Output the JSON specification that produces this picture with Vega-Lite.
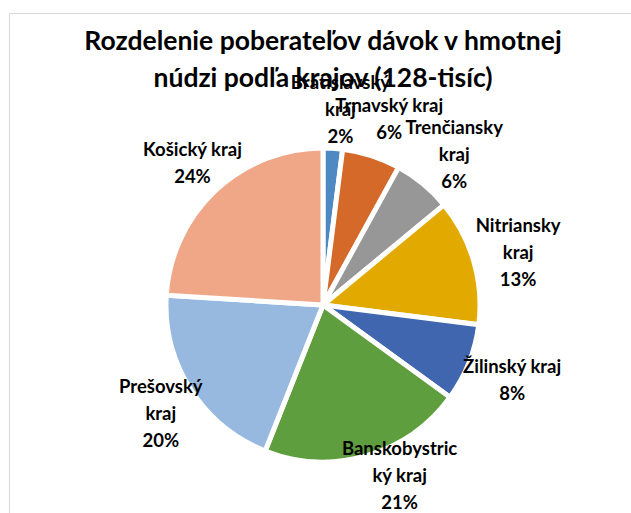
{
  "$schema": "https://vega.github.io/schema/vega-lite/v6.json",
  "autosize": {"type": "none"},
  "padding": {"left": 9, "top": 13, "right": 0, "bottom": 0},
  "width": 628,
  "height": 584,
  "background": "white",
  "view": {"stroke": "#d9d9d9", "strokeWidth": 1},
  "title": {
    "text": ["Rozdelenie poberateľov dávok v hmotnej", "núdzi podľa krajov (128-tisíc)"],
    "anchor": "middle",
    "frame": "group",
    "offset": 0,
    "dy": 79,
    "font": "Lato",
    "fontSize": 26.5,
    "fontWeight": "bold",
    "lineHeight": 37,
    "color": "#000000"
  },
  "data": {
    "values": [
      {"idx": 1, "region": "Bratislavský kraj", "share": 2, "label": "Bratislavský\nkraj\n2%"},
      {"idx": 2, "region": "Trnavský kraj", "share": 6, "label": "Trnavský kraj\n6%"},
      {"idx": 3, "region": "Trenčiansky kraj", "share": 6, "label": "Trenčiansky\nkraj\n6%"},
      {"idx": 4, "region": "Nitriansky kraj", "share": 13, "label": "Nitriansky\nkraj\n13%"},
      {"idx": 5, "region": "Žilinský kraj", "share": 8, "label": "Žilinský kraj\n8%"},
      {"idx": 6, "region": "Banskobystrický kraj", "share": 21, "label": "Banskobystric\nký kraj\n21%"},
      {"idx": 7, "region": "Prešovský kraj", "share": 20, "label": "Prešovský\nkraj\n20%"},
      {"idx": 8, "region": "Košický kraj", "share": 24, "label": "Košický kraj\n24%"}
    ]
  },
  "encoding": {
    "theta": {"field": "share", "type": "quantitative", "stack": true},
    "order": {"field": "idx", "type": "quantitative", "sort": "ascending"}
  },
  "layer": [
    {
      "mark": {"type": "arc", "outerRadius": 157, "stroke": "white", "strokeWidth": 5},
      "encoding": {
        "color": {
          "field": "region",
          "type": "nominal",
          "legend": null,
          "scale": {
            "domain": ["Bratislavský kraj", "Trnavský kraj", "Trenčiansky kraj", "Nitriansky kraj", "Žilinský kraj", "Banskobystrický kraj", "Prešovský kraj", "Košický kraj"],
            "range": ["#4e89c4", "#d4692a", "#979797", "#e2aa00", "#4066b0", "#5f9e3e", "#97b9e0", "#f0a788"]
          }
        }
      }
    },
    {
      "mark": {
        "type": "text",
        "radius": 198,
        "dx": 5,
        "dy": -24,
        "font": "Lato",
        "fontSize": 18.5,
        "fontWeight": "bold",
        "lineHeight": 27,
        "lineBreak": "\n",
        "align": "center",
        "baseline": "middle",
        "color": "#000000"
      },
      "encoding": {
        "text": {
          "condition": {"test": "length(split(datum.label, '\\n')) == 3 && datum.idx != 6", "field": "label", "type": "nominal"},
          "value": ""
        }
      }
    },
    {
      "mark": {
        "type": "text",
        "radius": 185,
        "dx": 25,
        "dy": -34,
        "font": "Lato",
        "fontSize": 18.5,
        "fontWeight": "bold",
        "lineHeight": 27,
        "lineBreak": "\n",
        "align": "center",
        "baseline": "middle",
        "color": "#000000"
      },
      "encoding": {
        "text": {
          "condition": {"test": "datum.idx == 6", "field": "label", "type": "nominal"},
          "value": ""
        }
      }
    },
    {
      "mark": {
        "type": "text",
        "radius": 198,
        "dx": 5,
        "dy": -10.5,
        "font": "Lato",
        "fontSize": 18.5,
        "fontWeight": "bold",
        "lineHeight": 27,
        "lineBreak": "\n",
        "align": "center",
        "baseline": "middle",
        "color": "#000000"
      },
      "encoding": {
        "text": {
          "condition": {"test": "length(split(datum.label, '\\n')) == 2", "field": "label", "type": "nominal"},
          "value": ""
        }
      }
    }
  ]
}
